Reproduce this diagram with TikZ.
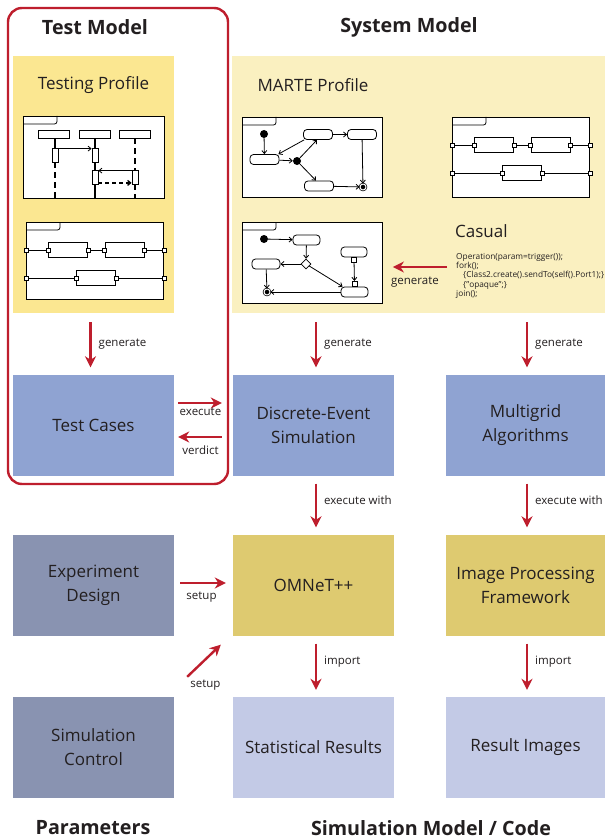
\documentclass[tikz,border=0pt]{standalone}
\usepackage{fontspec}
\usepackage{xcolor}
\usepackage{tikz}
\setmainfont{Open Sans}
\definecolor{testred}{RGB}{190, 30, 45}
\definecolor{testyellow}{RGB}{251, 231, 145}
\definecolor{marteyellow}{RGB}{250, 240, 192}
\definecolor{codeblue}{RGB}{143, 163, 210}
\definecolor{paramgray}{RGB}{137, 147, 177}
\definecolor{toolgold}{RGB}{222, 202, 112}
\definecolor{resultblue}{RGB}{195, 202, 230}
\definecolor{textdark}{RGB}{35, 31, 32}
\usetikzlibrary{arrows.meta, shapes.geometric, positioning}

% tab in the top left corner of a UML frame
\newcommand{\frametab}[1]{%
  \draw[umlline, rounded corners=2.5pt] ([yshift=-8pt]#1.north west) -| ([xshift=34pt]#1.north west);}

% composite structure: two parts on top, one below, ports on the frame
\newcommand{\partsdiagram}[1]{%
  \node[umlframe, minimum width=137pt, minimum height=#1pt, anchor=north west] (frame) at (0,0) {};
  \frametab{frame}
  \node[part] (top1) at (42,28) {};
  \node[part] (top2) at (98.5,28) {};
  \node[part] (bot) at (70,56) {};
  \node[port] (in1) at (frame.west |- top1) {};
  \node[port] (l1) at (top1.west) {};
  \node[port] (r1) at (top1.east) {};
  \node[port] (l2) at (top2.west) {};
  \node[port] (r2) at (top2.east) {};
  \node[port] (out1) at (frame.east |- top1) {};
  \node[port] (in2) at (frame.west |- bot) {};
  \node[port] (l3) at (bot.west) {};
  \node[port] (r3) at (bot.east) {};
  \node[port] (out2) at (frame.east |- bot) {};
  \draw[umlline] (in1) -- (l1) (r1) -- (l2) (r2) -- (out1) (in2) -- (l3) (r3) -- (out2);}

\begin{document}
\begin{tikzpicture}[
        x=1pt, y=-1pt,
        every node/.style={text=textdark},
        block/.style={rectangle, minimum width=161pt, minimum height=101pt, inner sep=0, align=center, font=\fontsize{17}{24}\selectfont},
        panel/.style={rectangle, minimum height=257pt, inner sep=0, anchor=north west},
        title/.style={font=\bfseries\fontsize{19.7}{24}\selectfont},
        lbl/.style={font=\fontsize{11.5}{13}\selectfont, inner sep=2pt},
        bigarrow/.style={line width=2.4pt, color=testred, -{Stealth[length=11pt, width=11pt, inset=3.5pt]}},
        umlframe/.style={rectangle, draw=black, fill=white, line width=0.9pt, inner sep=0},
        umlline/.style={draw=black, line width=0.8pt},
        part/.style={rectangle, draw=black, fill=white, line width=0.8pt, minimum width=39pt, minimum height=15pt, inner sep=0},
        port/.style={rectangle, draw=black, fill=white, line width=0.7pt, minimum size=4pt, inner sep=0},
        head/.style={rectangle, draw=black, fill=white, line width=0.8pt, minimum width=31pt, minimum height=8pt, inner sep=0},
        activation/.style={rectangle, draw=black, fill=white, line width=0.8pt, minimum width=6pt, minimum height=14pt, inner sep=0},
        lifeline/.style={line width=1.6pt},
        msg/.style={line width=0.8pt, -{Straight Barb[length=3pt, width=5pt]}},
        initial/.style={circle, fill=black, minimum size=8pt, inner sep=0},
        final/.style={circle, draw=black, fill=black, double=white, double distance=1pt, line width=0.7pt, minimum size=6pt, inner sep=0},
        state/.style={rectangle, rounded corners=3.5pt, draw=black, fill=white, line width=0.8pt, minimum width=29pt, minimum height=10pt, inner sep=0},
        decision/.style={diamond, draw=black, fill=white, line width=0.8pt, minimum size=10pt, inner sep=0},
        pin/.style={rectangle, draw=black, fill=white, line width=0.7pt, minimum size=5pt, inner sep=0},
        flow/.style={line width=0.8pt, -{Straight Barb[length=3pt, width=5pt]}}
    ]
    \useasboundingbox (0,0) rectangle (605,840);
    \fill[white] (0,0) rectangle (605,840);

    % profiles
    \node[panel, fill=testyellow, minimum width=161pt] (tprofile) at (13,56) {};
    \node[panel, fill=marteyellow, minimum width=373pt] (marte) at (232,56) {};
    \node[font=\fontsize{17}{20}\selectfont] (tplabel) at (93.5,85) {Testing Profile};
    \node[font=\fontsize{17}{20}\selectfont, anchor=west] (martelabel) at (254,85) {MARTE Profile};

    % sequence diagram
    \node[umlframe, minimum width=141pt, minimum height=82pt, anchor=north west] (seqframe) at (23,116) {};
    \frametab{seqframe}
    \node[head] (obj1) at (54,134) {};
    \node[head] (obj2) at (95,134) {};
    \node[head] (obj3) at (135,134) {};
    \node[activation] (act1) at (55,155) {};
    \node[activation] (act2) at (95,155) {};
    \node[activation] (act3) at (95,177) {};
    \node[activation] (act4) at (135,177) {};
    \draw[lifeline] (obj1.south -| act1) -- (act1);
    \draw[lifeline, dash pattern=on 6pt off 4pt] (act1) -- (act1 |- seqframe.south);
    \draw[lifeline] (obj2) -- (act2) (act2) -- (act3) (act3) -- (act3 |- seqframe.south);
    \draw[lifeline, dash pattern=on 6pt off 4pt] (obj3) -- (act4) (act4) -- (act4 |- seqframe.south);
    \draw[msg] ([yshift=-1pt]act1.north east) -- ([yshift=-1pt]act2.north west);
    \draw[msg] ([yshift=-1pt]act4.north west) -- ([yshift=-1pt]act3.north east);
    \draw[msg, line width=1.3pt, dash pattern=on 4pt off 3pt] ([yshift=1.5pt]act3.south east) -- ([yshift=1.5pt]act4.south west);

    % composite structures
    \begin{scope}[shift={(26,222)}, name prefix=tst-]
        \partsdiagram{77}
    \end{scope}
    \begin{scope}[shift={(452,117)}, name prefix=sys-]
        \partsdiagram{80}
    \end{scope}

    % state machine
    \node[umlframe, minimum width=140pt, minimum height=80pt, anchor=north west] (smframe) at (242,117) {};
    \frametab{smframe}
    \node[initial] (sminit) at (264,134) {};
    \node[state] (idle) at (264.5,159.5) {};
    \node[initial] (fork) at (297,161) {};
    \node[state] (busy) at (318,134.5) {};
    \node[state] (done) at (362,134.5) {};
    \node[state] (wait) at (319,186) {};
    \node[final] (smfinal) at (363,187) {};
    \draw[flow] (sminit) -- (idle);
    \draw[flow] (idle) -- (fork);
    \draw[flow] (fork) -- ([xshift=-1pt]busy.south);
    \draw[flow] ([xshift=1pt]busy.south west) -- ([xshift=-1pt]idle.north east);
    \draw[flow] (fork) -- ([xshift=-3pt]wait.north);
    \draw[flow] (busy) -- (done);
    \draw[flow] (done) -- (smfinal);
    \draw[flow] (wait) -- (smfinal);

    % activity diagram
    \node[umlframe, minimum width=140pt, minimum height=81pt, anchor=north west] (actframe) at (242,222) {};
    \frametab{actframe}
    \node[initial] (acinit) at (264,239) {};
    \node[state, minimum width=27pt] (prep) at (306.5,240) {};
    \node[decision] (choice) at (306,264) {};
    \node[state, minimum width=28pt] (retry) at (266,264) {};
    \node[state, minimum width=26pt] (recv) at (354,252) {};
    \node[state, minimum width=27pt] (merge) at (354.5,292) {};
    \node[pin, anchor=north] (pinout) at (recv.south) {};
    \node[pin, anchor=south] (pinin) at (merge.north) {};
    \node[final] (acfinal) at (267,292) {};
    \draw[flow] (acinit) -- (prep);
    \draw[flow] (prep) -- (choice);
    \draw[flow] (choice) -- (retry);
    \draw[flow] (choice) -- ([xshift=2pt]merge.north west);
    \draw[flow] (pinout) -- (pinin);
    \draw[flow] (retry) -- (acfinal);
    \draw[flow] (merge) -- (acfinal);

    % casual code
    \node[font=\fontsize{17}{20}\selectfont, anchor=west, inner sep=0] (casual) at (455,231) {Casual};
    \node[font=\fontsize{8.3}{9.25}\selectfont, align=left, anchor=north west, inner sep=0] (code) at (456,253)
        {Operation(param=trigger());\\fork();\\\hspace*{7pt}\{Class2.create().sendTo(self().Port1);\}\\\hspace*{7pt}\{"opaque";\}\\join();};
    \coordinate (genstart) at (447,267);
    \draw[bigarrow, shorten >=10pt] (genstart) -- (genstart -| actframe.east)
        node[lbl, midway, below=7pt] (gencode) {generate};

    % test model frame
    \draw[testred, line width=2.4pt, rounded corners=14pt] (8,8) rectangle (228,484);
    \node[title] (testtitle) at (95,27) {Test Model};
    \node[title] (systitle) at (409,27) {System Model};

    % code, tools and results
    \node[block, fill=codeblue] (tcases) at (93.5,425) {Test Cases};
    \node[block, fill=codeblue] (des) at (313.5,425) {Discrete-Event\\Simulation};
    \node[block, fill=codeblue, minimum width=159pt] (multigrid) at (525.5,425) {Multigrid\\Algorithms};
    \node[block, fill=paramgray] (design) at (93.5,585) {Experiment\\Design};
    \node[block, fill=toolgold] (omnet) at (313.5,585) {OMNeT++};
    \node[block, fill=toolgold, minimum width=159pt] (imgproc) at (525.5,585) {Image Processing\\Framework};
    \node[block, fill=paramgray] (ctrl) at (93.5,747.5) {Simulation\\Control};
    \node[block, fill=resultblue] (stats) at (313.5,747.5) {Statistical Results};
    \node[block, fill=resultblue, minimum width=159pt] (images) at (525.5,747.5) {Result Images};

    \node[title] (partitle) at (93,828) {Parameters};
    \node[title] (simtitle) at (431,828) {Simulation Model / Code};

    % generate
    \draw[bigarrow, shorten <=9pt, shorten >=7pt] ([xshift=-3pt]tcases.north |- tprofile.south) -- ([xshift=-3pt]tcases.north)
        node[lbl, midway, right=5pt] (gen1) {generate};
    \draw[bigarrow, shorten <=9pt, shorten >=7pt] ([xshift=2.5pt]des.north |- marte.south) -- ([xshift=2.5pt]des.north)
        node[lbl, midway, right=5pt] (gen2) {generate};
    \draw[bigarrow, shorten <=9pt, shorten >=7pt] ([xshift=1.5pt]multigrid.north |- marte.south) -- ([xshift=1.5pt]multigrid.north)
        node[lbl, midway, right=5pt] (gen3) {generate};

    % execute / verdict
    \draw[bigarrow, shorten <=4pt, shorten >=11pt] ([yshift=22pt]tcases.east) -- ([yshift=22pt]des.west)
        node[lbl, midway, below=2pt, xshift=-3pt] (exec) {execute};
    \draw[bigarrow, shorten <=11pt, shorten >=4pt] ([yshift=-12pt]des.west) -- ([yshift=-12pt]tcases.east)
        node[lbl, midway, below=6pt, xshift=-3pt] (verdict) {verdict};

    % execute with
    \draw[bigarrow, shorten <=8pt, shorten >=7pt] ([xshift=2.5pt]des.south) -- ([xshift=2.5pt]omnet.north)
        node[lbl, pos=0.42, right=5pt] (exw1) {execute with};
    \draw[bigarrow, shorten <=8pt, shorten >=7pt] ([xshift=1.5pt]multigrid.south) -- ([xshift=1.5pt]imgproc.north)
        node[lbl, pos=0.42, right=5pt] (exw2) {execute with};

    % setup
    \draw[bigarrow, shorten <=6pt, shorten >=7pt] ([yshift=2pt]design.east) -- ([yshift=2pt]omnet.west)
        node[lbl, midway, below=6pt, xshift=-2pt] (setup1) {setup};
    \draw[bigarrow] ([shift={(13pt,20pt)}]ctrl.north east) -- ([shift={(-12pt,-9pt)}]omnet.south west)
        node[lbl, pos=0, anchor=north west] (setup2) {setup};

    % import
    \draw[bigarrow, shorten <=8pt, shorten >=7pt] ([xshift=2.5pt]omnet.south) -- ([xshift=2.5pt]stats.north)
        node[lbl, pos=0.42, right=5pt] (imp1) {import};
    \draw[bigarrow, shorten <=8pt, shorten >=7pt] ([xshift=1.5pt]imgproc.south) -- ([xshift=1.5pt]images.north)
        node[lbl, pos=0.42, right=5pt] (imp2) {import};

\end{tikzpicture}
\end{document}
